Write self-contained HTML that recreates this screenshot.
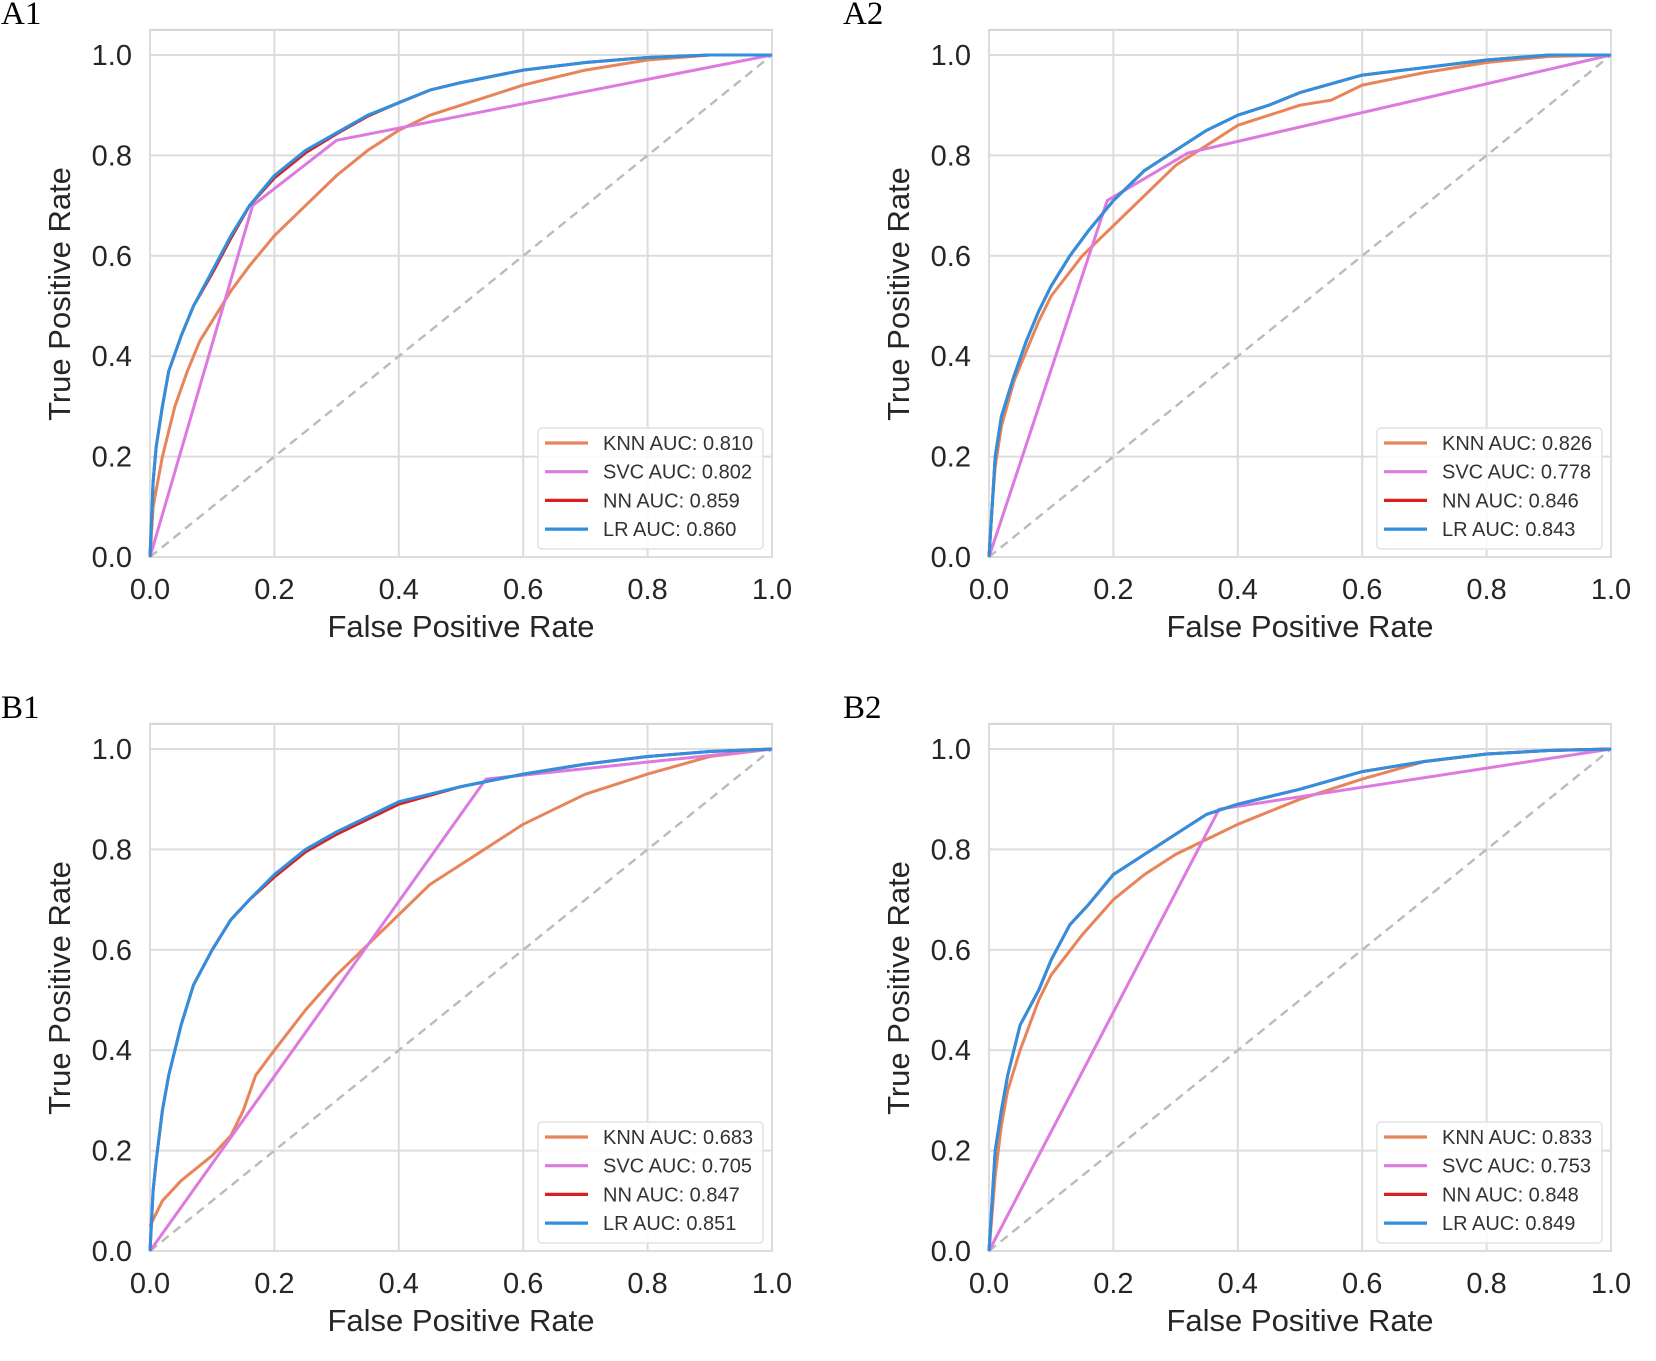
<!DOCTYPE html>
<html><head><meta charset="utf-8"><style>
html,body{margin:0;padding:0;background:#fff;}
svg{display:block;}
</style></head><body>
<svg id="fig" width="1656" height="1361" viewBox="0 0 1656 1361" xmlns="http://www.w3.org/2000/svg"></svg>
<script>
// ---- data ----
const ticks = [0, 0.2, 0.4, 0.6, 0.8, 1.0];
const tickLabels = ["0.0", "0.2", "0.4", "0.6", "0.8", "1.0"];
const panelNames = ["A1", "A2", "B1", "B2"];
const modelNames = ["KNN", "SVC", "NN", "LR"];
const aucA1 = ["0.810", "0.802", "0.859", "0.860"];
const aucA2 = ["0.826", "0.778", "0.846", "0.843"];
const aucB1 = ["0.683", "0.705", "0.847", "0.851"];
const aucB2 = ["0.833", "0.753", "0.848", "0.849"];

const a1KnnFpr = [0,0.005,0.02,0.04,0.06,0.08,0.1,0.13,0.16,0.2,0.25,0.3,0.35,0.4,0.45,0.5,0.6,0.7,0.8,0.9,1];
const a1KnnTpr = [0,0.1,0.2,0.3,0.37,0.43,0.47,0.53,0.58,0.64,0.7,0.76,0.81,0.85,0.88,0.9,0.94,0.97,0.99,1,1];
const a1SvcFpr = [0,0.165,0.3,1];
const a1SvcTpr = [0,0.7,0.83,1];
const a1NnFpr = [0,0.005,0.01,0.02,0.03,0.05,0.07,0.1,0.13,0.16,0.2,0.25,0.3,0.35,0.4,0.45,0.5,0.6,0.7,0.8,0.9,1];
const a1NnTpr = [0,0.15,0.22,0.3,0.37,0.44,0.5,0.565,0.635,0.7,0.755,0.805,0.843,0.878,0.905,0.93,0.945,0.97,0.985,0.995,1,1];
const a1LrFpr = [0,0.005,0.01,0.02,0.03,0.05,0.07,0.1,0.13,0.16,0.2,0.25,0.3,0.35,0.4,0.45,0.5,0.6,0.7,0.8,0.9,1];
const a1LrTpr = [0,0.15,0.22,0.3,0.37,0.44,0.5,0.57,0.64,0.7,0.76,0.81,0.845,0.88,0.905,0.93,0.945,0.97,0.985,0.995,1,1];

const a2KnnFpr = [0,0.005,0.01,0.02,0.04,0.06,0.08,0.1,0.15,0.2,0.25,0.3,0.35,0.4,0.5,0.55,0.6,0.7,0.8,0.9,1];
const a2KnnTpr = [0,0.1,0.18,0.26,0.35,0.41,0.47,0.52,0.6,0.66,0.72,0.78,0.82,0.86,0.9,0.91,0.94,0.965,0.985,0.997,1];
const a2SvcFpr = [0,0.19,0.32,1];
const a2SvcTpr = [0,0.71,0.805,1];
const a2NnFpr = [0,0.005,0.01,0.02,0.04,0.06,0.08,0.1,0.13,0.16,0.2,0.25,0.3,0.35,0.4,0.45,0.5,0.6,0.7,0.8,0.9,1];
const a2NnTpr = [0,0.1,0.2,0.28,0.36,0.43,0.49,0.54,0.6,0.65,0.71,0.77,0.81,0.85,0.88,0.9,0.925,0.96,0.975,0.99,1,1];
const a2LrFpr = [0,0.005,0.01,0.02,0.04,0.06,0.08,0.1,0.13,0.16,0.2,0.25,0.3,0.35,0.4,0.45,0.5,0.6,0.7,0.8,0.9,1];
const a2LrTpr = [0,0.1,0.2,0.28,0.36,0.43,0.49,0.54,0.6,0.65,0.71,0.77,0.81,0.85,0.88,0.9,0.925,0.96,0.975,0.99,1,1];

const b1KnnFpr = [0,0.02,0.05,0.1,0.13,0.15,0.17,0.2,0.25,0.3,0.35,0.4,0.45,0.5,0.55,0.6,0.65,0.7,0.8,0.9,1];
const b1KnnTpr = [0.05,0.1,0.14,0.19,0.23,0.28,0.35,0.4,0.48,0.55,0.61,0.67,0.73,0.77,0.81,0.85,0.88,0.91,0.95,0.985,1];
const b1SvcFpr = [0,0.54,1];
const b1SvcTpr = [0,0.94,1];
const b1NnFpr = [0,0.005,0.01,0.02,0.03,0.05,0.07,0.1,0.13,0.16,0.2,0.25,0.3,0.35,0.4,0.5,0.6,0.7,0.8,0.9,1];
const b1NnTpr = [0,0.12,0.18,0.28,0.35,0.45,0.53,0.6,0.66,0.7,0.745,0.795,0.83,0.86,0.89,0.925,0.95,0.97,0.985,0.995,1];
const b1LrFpr = [0,0.005,0.01,0.02,0.03,0.05,0.07,0.1,0.13,0.16,0.2,0.25,0.3,0.35,0.4,0.5,0.6,0.7,0.8,0.9,1];
const b1LrTpr = [0,0.12,0.18,0.28,0.35,0.45,0.53,0.6,0.66,0.7,0.75,0.8,0.835,0.865,0.895,0.925,0.95,0.97,0.985,0.995,1];

const b2KnnFpr = [0,0.01,0.02,0.03,0.05,0.08,0.1,0.15,0.2,0.25,0.3,0.35,0.4,0.5,0.6,0.7,0.8,0.9,1];
const b2KnnTpr = [0,0.15,0.25,0.32,0.4,0.5,0.55,0.63,0.7,0.75,0.79,0.82,0.85,0.9,0.94,0.975,0.99,0.997,1];
const b2SvcFpr = [0,0.37,1];
const b2SvcTpr = [0,0.88,1];
const b2NnFpr = [0,0.005,0.01,0.02,0.03,0.05,0.08,0.1,0.13,0.16,0.2,0.25,0.3,0.35,0.4,0.5,0.6,0.7,0.8,0.9,1];
const b2NnTpr = [0,0.1,0.2,0.28,0.35,0.45,0.52,0.58,0.65,0.69,0.75,0.79,0.83,0.87,0.89,0.92,0.955,0.975,0.99,0.997,1];
const b2LrFpr = [0,0.005,0.01,0.02,0.03,0.05,0.08,0.1,0.13,0.16,0.2,0.25,0.3,0.35,0.4,0.5,0.6,0.7,0.8,0.9,1];
const b2LrTpr = [0,0.1,0.2,0.28,0.35,0.45,0.52,0.58,0.65,0.69,0.75,0.79,0.83,0.87,0.89,0.92,0.955,0.975,0.99,0.997,1];

// ---- layout ----
const NS = "http://www.w3.org/2000/svg";
const svg = document.getElementById("fig");
const colors = ["#e8845a", "#dd7ae0", "#d92020", "#3090e0"];
const panels = [
  {ox:150, oy:55, lab:"A1", auc:aucA1, s:[[a1KnnFpr,a1KnnTpr],[a1SvcFpr,a1SvcTpr],[a1NnFpr,a1NnTpr],[a1LrFpr,a1LrTpr]]},
  {ox:989, oy:55, lab:"A2", auc:aucA2, s:[[a2KnnFpr,a2KnnTpr],[a2SvcFpr,a2SvcTpr],[a2NnFpr,a2NnTpr],[a2LrFpr,a2LrTpr]]},
  {ox:150, oy:749, lab:"B1", auc:aucB1, s:[[b1KnnFpr,b1KnnTpr],[b1SvcFpr,b1SvcTpr],[b1NnFpr,b1NnTpr],[b1LrFpr,b1LrTpr]]},
  {ox:989, oy:749, lab:"B2", auc:aucB2, s:[[b2KnnFpr,b2KnnTpr],[b2SvcFpr,b2SvcTpr],[b2NnFpr,b2NnTpr],[b2LrFpr,b2LrTpr]]}
];
const W = 622, H = 502;

function mk(tag, attrs, parent) {
  const e = document.createElementNS(NS, tag);
  for (const k in attrs) e.setAttribute(k, attrs[k]);
  parent.appendChild(e);
  return e;
}

panels.forEach((p, pi) => {
  const g = mk("g", {}, svg);
  
  
  const xs = v => p.ox + v * W;
  const ys = v => p.oy + H - v * H;

  const pl = mk("text", {x: pi % 2 ? 843 : 1, y: p.oy - 31, "font-family": "Liberation Serif, serif", "font-size": 33, fill: "#000"}, g);
  
  
  pl.textContent = p.lab;

  const frame = mk("rect", {x: xs(0), y: ys(1.05), width: W, height: ys(0) - ys(1.05), fill: "#fff", stroke: "#d4d4d4", "stroke-width": 2}, g);
  
  

  ticks.forEach((t, i) => {
    const gx = mk("line", {x1: xs(t), x2: xs(t), y1: ys(1.05), y2: ys(0), stroke: "#dcdcdc", "stroke-width": 2}, g);
    
    
    const gy = mk("line", {x1: xs(0), x2: xs(1), y1: ys(t), y2: ys(t), stroke: "#dcdcdc", "stroke-width": 2}, g);
    
    
    const tx = mk("text", {x: xs(t), y: ys(0) + 42, "text-anchor": "middle", "font-family": "Liberation Sans, sans-serif", "font-size": 29, fill: "#262626"}, g);
    
    
    tx.textContent = tickLabels[i];
    const ty = mk("text", {x: xs(0) - 18, y: ys(t) + 10, "text-anchor": "end", "font-family": "Liberation Sans, sans-serif", "font-size": 29, fill: "#262626"}, g);
    
    
    ty.textContent = tickLabels[i];
  });

  const xl = mk("text", {x: xs(0.5), y: ys(0) + 80, "text-anchor": "middle", "font-family": "Liberation Sans, sans-serif", "font-size": 31, fill: "#262626"}, g);
  
  
  xl.textContent = "False Positive Rate";
  const yx = p.ox - 80, yy = ys(0.5) - 12;
  const yl = mk("text", {x: yx, y: yy, "text-anchor": "middle", transform: `rotate(-90 ${yx} ${yy})`, "font-family": "Liberation Sans, sans-serif", "font-size": 31, fill: "#262626"}, g);
  
  
  yl.textContent = "True Positive Rate";

  const diag = mk("line", {x1: xs(0), y1: ys(0), x2: xs(1), y2: ys(1), stroke: "#bbbbbb", "stroke-width": 2.4, "stroke-dasharray": "9,6"}, g);
  
  

  p.s.forEach((ser, si) => {
    const pts = ser[0].map((f, k) => xs(f).toFixed(1) + "," + ys(ser[1][k]).toFixed(1)).join(" ");
    const pl2 = mk("polyline", {points: pts, fill: "none", stroke: colors[si], "stroke-width": 3, "stroke-linejoin": "round"}, g);
    
    
  });

  const lx = p.ox + 388, ly = p.oy + 373;
  const lg = mk("g", {}, g);
  
  
  mk("rect", {x: lx, y: ly, width: 225, height: 121, rx: 4, fill: "#fff", "fill-opacity": 0.85, stroke: "#e2e2e2", "stroke-width": 1.5}, lg);
  modelNames.forEach((m, i) => {
    const ey = ly + 15 + i * 28.7;
    const ln = mk("line", {x1: lx + 7, x2: lx + 50, y1: ey, y2: ey, stroke: colors[i], "stroke-width": 3.2}, lg);
    
    
    const t = mk("text", {x: lx + 65, y: ey + 7, "font-family": "Liberation Sans, sans-serif", "font-size": 20, fill: "#333"}, lg);
    
    
    t.textContent = m + " AUC: " + p.auc[i];
  });
});
</script>
</body></html>
